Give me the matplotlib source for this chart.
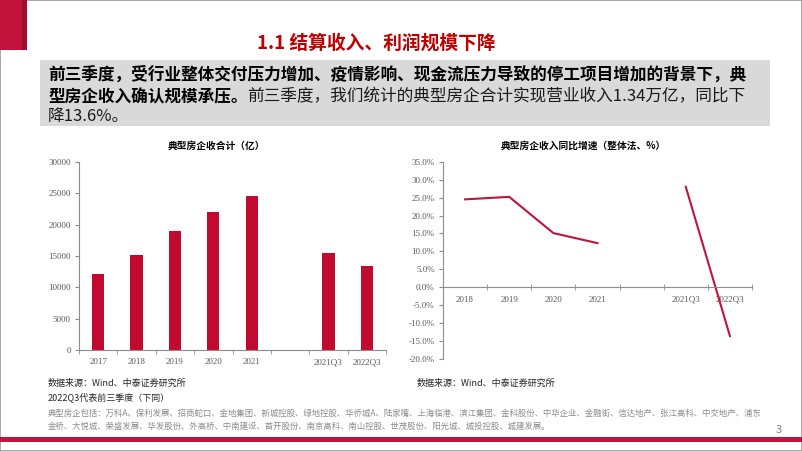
import numpy as np
import matplotlib
matplotlib.use("Agg")
import matplotlib.pyplot as plt
from matplotlib.patches import Rectangle
from matplotlib.ticker import FixedLocator, FuncFormatter

plt.rcParams['font.family'] = ['Noto Sans CJK SC', 'DejaVu Sans']

# ---------------- data ----------------
rev_categories = ['2017', '2018', '2019', '2020', '2021', '', '2021Q3', '2022Q3']
rev_values = [12200, 15200, 19000, 22000, 24600, np.nan, 15500, 13400]
rev_yticks = [0, 5000, 10000, 15000, 20000, 25000, 30000]

yoy_categories = ['2018', '2019', '2020', '2021', '', '2021Q3', '2022Q3']
yoy_values = [24.5, 25.2, 15.1, 12.3, np.nan, 28.0, -13.6]
yoy_yticks = [-20, -15, -10, -5, 0, 5, 10, 15, 20, 25, 30, 35]

page_title = '1.1 结算收入、利润规模下降'
body_bold_1 = '前三季度，受行业整体交付压力增加、疫情影响、现金流压力导致的停工项目增加的背景下，典'
body_bold_2 = '型房企收入确认规模承压。'
body_norm_2 = '前三季度，我们统计的典型房企合计实现营业收入1.34万亿，同比下'
body_norm_3 = '降13.6%。'
left_title = '典型房企收合计（亿）'
right_title = '典型房企收入同比增速（整体法、%）'
source_text = '数据来源：Wind、中泰证券研究所'
note_text = '2022Q3代表前三季度（下同）'
foot_1 = '典型房企包括：万科A、保利发展、招商蛇口、金地集团、新城控股、绿地控股、华侨城A、陆家嘴、上海临港、滨江集团、金科股份、中华企业、金融街、信达地产、张江高科、中交地产、浦东'
foot_2 = '金桥、大悦城、荣盛发展、华发股份、外高桥、中南建设、首开股份、南京高科、南山控股、世茂股份、阳光城、城投控股、城建发展。'

# ---------------- figure ----------------
W, H = 802, 451
fig = plt.figure(figsize=(W / 100, H / 100), dpi=100)
RED = '#C0143C'
BAR = '#C00A30'
GRAY_AX = '#8C8C8C'
GRAY_TXT = '#595959'


def fx(px):
    return px / W


def fy(py):
    return 1 - py / H


# decorations
fig.add_artist(Rectangle((0, 0), 1, 1, transform=fig.transFigure, fill=False,
                         edgecolor='#9A9A9A', linewidth=1.2))
fig.add_artist(Rectangle((fx(0), fy(50)), fx(22), 50 / H, transform=fig.transFigure,
                         facecolor='#C0143C', edgecolor='none'))
fig.add_artist(Rectangle((fx(22), fy(50)), fx(5), 50 / H, transform=fig.transFigure,
                         facecolor='#A0102E', edgecolor='none'))
fig.add_artist(Rectangle((0, fy(442)), 1, 5 / H, transform=fig.transFigure,
                         facecolor='#C0143C', edgecolor='none'))
fig.add_artist(Rectangle((fx(40), fy(126)), fx(730), 66 / H, transform=fig.transFigure,
                         facecolor='#D9D9D9', edgecolor='none'))

fig.text(fx(376), fy(43), page_title, ha='center', va='center', color='#C00000',
         fontsize=13.5, fontweight='bold')

# body text
renderer = fig.canvas.get_renderer()
BODY_FS = 12.0
t1 = fig.text(fx(48), fy(75), body_bold_1, ha='left', va='center', fontsize=BODY_FS,
              fontweight='bold', color='black')
t2 = fig.text(fx(48), fy(97), body_bold_2, ha='left', va='center', fontsize=BODY_FS,
              fontweight='bold', color='black')
bb = t2.get_window_extent(renderer)
fig.text(bb.x1 / W, fy(97), body_norm_2, ha='left', va='center', fontsize=BODY_FS,
         color='#1A1A1A')
fig.text(fx(48), fy(117), body_norm_3, ha='left', va='center', fontsize=BODY_FS,
         color='#1A1A1A')

# ---------------- left chart ----------------
ax1 = fig.add_axes([fx(79), fy(350), fx(386 - 79), (350 - 162) / H])
x1 = np.arange(len(rev_categories))
ax1.bar(x1, rev_values, width=0.32, color=BAR)
ax1.set_xlim(-0.5, len(rev_categories) - 0.5)
ax1.set_ylim(0, 30000)
ax1.set_yticks(rev_yticks)
ax1.set_xticks(x1)
ax1.set_xticklabels(rev_categories)
ax1.xaxis.set_minor_locator(FixedLocator(np.arange(-0.5, len(rev_categories), 1.0)))
for s in ['top', 'right']:
    ax1.spines[s].set_visible(False)
for s in ['left', 'bottom']:
    ax1.spines[s].set_color(GRAY_AX)
    ax1.spines[s].set_linewidth(0.8)
ax1.tick_params(axis='x', which='major', length=0, pad=6, labelsize=6.5,
                labelcolor=GRAY_TXT, labelfontfamily='Liberation Serif')
ax1.tick_params(axis='x', which='minor', length=3, color=GRAY_AX, direction='out')
ax1.tick_params(axis='y', length=3, color=GRAY_AX, direction='out', labelsize=6.5,
                labelcolor=GRAY_TXT, labelfontfamily='Liberation Serif', pad=3)
ax1.set_facecolor('none')
fig.text(fx(216), fy(146), left_title, ha='center', va='center', fontsize=7,
         fontweight='bold', color='black')

# ---------------- right chart ----------------
ax2 = fig.add_axes([fx(443), fy(359), fx(752 - 443), (359 - 161.7) / H])
x2 = np.arange(len(yoy_categories))
ax2.plot(x2, yoy_values, color=RED, linewidth=1.5)
ax2.set_xlim(-0.5, len(yoy_categories) - 0.5)
ax2.set_ylim(-20, 35)
ax2.set_yticks(yoy_yticks)
ax2.yaxis.set_major_formatter(FuncFormatter(lambda v, p: f'{v:.1f}%'))
ax2.set_xticks(x2)
ax2.set_xticklabels(yoy_categories)
ax2.xaxis.set_minor_locator(FixedLocator(np.arange(0.5, len(yoy_categories), 1.0)))
ax2.spines['bottom'].set_position(('data', 0))
for s in ['top', 'right']:
    ax2.spines[s].set_visible(False)
for s in ['left', 'bottom']:
    ax2.spines[s].set_color(GRAY_AX)
    ax2.spines[s].set_linewidth(0.8)
ax2.tick_params(axis='x', which='major', length=0, pad=6, labelsize=6.5,
                labelcolor=GRAY_TXT, labelfontfamily='Liberation Serif')
ax2.tick_params(axis='x', which='minor', length=4, color=GRAY_AX, direction='inout')
ax2.tick_params(axis='y', length=3, color=GRAY_AX, direction='out', labelsize=6.5,
                labelcolor=GRAY_TXT, labelfontfamily='Liberation Serif', pad=3)
ax2.set_facecolor('none')
fig.text(fx(583), fy(146), right_title, ha='center', va='center', fontsize=7,
         fontweight='bold', color='black')

# ---------------- sources & notes ----------------
fig.text(fx(48), fy(383), source_text, ha='left', va='center', fontsize=6.5, color='#262626')
fig.text(fx(417), fy(383), source_text, ha='left', va='center', fontsize=6.5, color='#262626')
fig.text(fx(48), fy(397), note_text, ha='left', va='center', fontsize=6.5, color='#262626',
         style='italic')
fig.text(fx(48), fy(413), foot_1, ha='left', va='center', fontsize=6.0, color='#8C8C8C')
fig.text(fx(48), fy(426), foot_2, ha='left', va='center', fontsize=6.0, color='#8C8C8C')
fig.text(fx(779), fy(430), '3', ha='center', va='center', fontsize=8, color='#7F7F7F')

fig.savefig('out.png', dpi=100)
